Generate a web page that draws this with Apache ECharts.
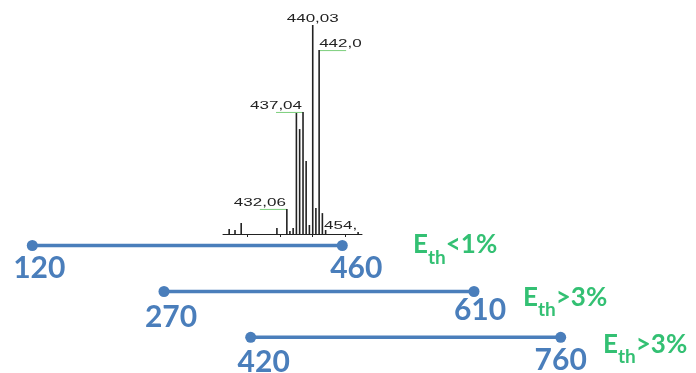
<!DOCTYPE html>
<html>
<head>
<meta charset="utf-8">
<script src="https://cdn.jsdelivr.net/npm/echarts@6/dist/echarts.min.js"></script>
<style>html,body{margin:0;padding:0;background:#fff}#c{width:696px;height:373px}</style>
</head>
<body>
<div id="c"></div>
<script>
// ---- Spectrum data (m/z, relative intensity %) ----
const peakMz  = [414.3, 416.1, 418.0, 429.0, 432.06, 433.0, 434.0, 435.0, 436.0, 437.04, 438.0, 439.0, 440.03, 441.0, 442.0, 443.0, 444.0, 454.0];
const peakInt = [2.4,   1.9,   5.3,   2.9,   12.0,   1.4,   2.9,   57.9,  50.2,  58.4,   34.9,  4.3,   100,    12.4,  88.0,  10.0,  1.9,   1.0];
const specTicks = [420, 430, 440, 450];
const labelMz   = [432.06, 437.04, 440.03, 442.0, 454.0];
const labelText = ['432,06', '437,04', '440,03', '442,0', '454,'];
const labelSide = ['left', 'left', 'center', 'right', 'left'];

// ---- Range rows ----
const rowStart = [120, 270, 420];
const rowEnd   = [460, 610, 760];
const rowNote  = ['<1%', '>3%', '>3%'];

// ---- layout (pixels) ----
const rowLeft = [32.3, 164, 250.7];
const rowY    = [245.5, 291.5, 337.3];
const rowW    = 310;
const startLabelOff = [[7, 2], [7, 5], [13, 4.5]];
const endLabelOff   = [[14, 2], [6, -1.5], [0, 2.5]];
const noteOff       = [[70.7, 4], [49, 10.5], [42.3, 12]];

const BLUE = '#4A7EBB', GREEN = '#00B050';

function intensityAt(m) { const i = peakMz.indexOf(m); return i >= 0 ? peakInt[i] : 0; }

const grids = [{ left: 223, right: 334, top: 25, bottom: 139 }];
const xAxes = [{
  type: 'value', gridIndex: 0, min: 412.4, max: 455.2,
  splitLine: { show: false },
  axisLine: { show: true, onZero: false, lineStyle: { color: '#222', width: 1 } },
  axisTick: { show: true, length: 3, customValues: specTicks, lineStyle: { color: '#222' } },
  axisLabel: { show: false }
}];
const yAxes = [{ type: 'value', gridIndex: 0, min: 0, max: 100, show: false }];
const series = [
  {
    type: 'bar', xAxisIndex: 0, yAxisIndex: 0, barWidth: 1.6,
    itemStyle: { color: '#222' }, silent: true, animation: false,
    data: peakMz.map((m, i) => [m, peakInt[i]])
  },
  {
    type: 'custom', coordinateSystem: 'cartesian2d', xAxisIndex: 0, yAxisIndex: 0, animation: false,
    data: labelMz.map(m => [m, intensityAt(m)]),
    renderItem: function (params, api) {
      const i = params.dataIndex;
      const p = api.coord([api.value(0), api.value(1)]);
      const side = labelSide[i];
      const children = [];
      const tx = side === 'left' ? p[0] - 1 : p[0];
      children.push({
        type: 'text', x: tx, y: p[1] - 1, scaleX: 1.7,
        style: {
          text: labelText[i], fill: '#222', font: '10px "Liberation Sans", Arial, sans-serif',
          align: side === 'left' ? 'right' : side === 'right' ? 'left' : 'center', verticalAlign: 'bottom'
        }
      });
      if (side !== 'center' && labelText[i] !== '454,') {
        const dir = side === 'left' ? -1 : 1;
        children.push({
          type: 'line',
          shape: { x1: p[0], y1: p[1] + 0.5, x2: p[0] + dir * 27, y2: p[1] + 0.5 },
          style: { stroke: '#7ccf7c', lineWidth: 1 }
        });
      }
      return { type: 'group', children: children };
    }
  }
];

rowStart.forEach((s, r) => {
  const gi = r + 1;
  grids.push({ left: rowLeft[r], width: rowW, top: rowY[r] - 10, height: 20 });
  xAxes.push({ type: 'value', gridIndex: gi, min: rowStart[r], max: rowEnd[r], show: false });
  yAxes.push({ type: 'value', gridIndex: gi, min: -1, max: 1, show: false });
  const lbl = { show: true, position: 'bottom', distance: 0, color: BLUE,
    fontFamily: 'Lato', fontWeight: 'bold', fontSize: 30, formatter: p => String(p.value[0]) };
  series.push({
    type: 'line', xAxisIndex: gi, yAxisIndex: gi, animation: false, silent: true,
    symbol: 'circle', symbolSize: 11, clip: false,
    lineStyle: { color: BLUE, width: 3.5 }, itemStyle: { color: BLUE },
    data: [
      { value: [rowStart[r], 0], label: Object.assign({}, lbl, { offset: startLabelOff[r] }) },
      { value: [rowEnd[r], 0], label: Object.assign({}, lbl, { offset: endLabelOff[r] }) }
    ]
  });
  series.push({
    type: 'scatter', xAxisIndex: gi, yAxisIndex: gi, animation: false, silent: true,
    symbolSize: 0, clip: false,
    data: [[rowEnd[r], 0]],
    label: {
      show: true, position: 'right', distance: 0, offset: noteOff[r],
      formatter: '{e|E}{s|th}{e|' + rowNote[r] + '}',
      rich: {
        e: { fontFamily: 'Lato', fontWeight: 'bold', fontSize: 26, color: GREEN, padding: [0, 0, 9, 0], verticalAlign: 'top' },
        s: { fontFamily: 'Lato', fontWeight: 'bold', fontSize: 19, color: GREEN, verticalAlign: 'bottom' }
      }
    }
  });
});

const chart = echarts.init(document.getElementById('c'), null, { renderer: 'canvas' });
chart.setOption({ backgroundColor: '#fff', animation: false, grid: grids, xAxis: xAxes, yAxis: yAxes, series: series });
</script>
</body>
</html>
